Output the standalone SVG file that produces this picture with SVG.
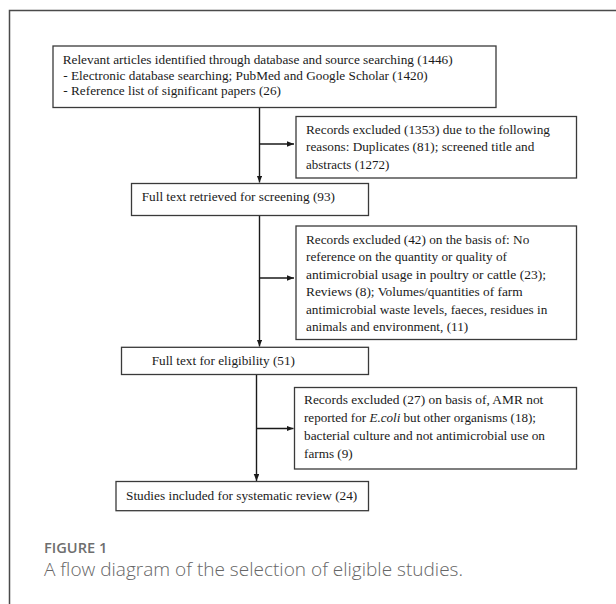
<svg xmlns="http://www.w3.org/2000/svg" width="616" height="604" viewBox="0 0 616 604">
  <style>
    .box { fill: #ffffff; stroke: #3a3a3a; stroke-width: 1.3; }
    .t { font-family: "Liberation Serif", "Times New Roman", serif; font-size: 13.5px; fill: #1a1a1a; }
    .conn { stroke: #1a1a1a; stroke-width: 1.4; fill: none; }
    .frame { fill: none; stroke: #4a4a4a; stroke-width: 1.5; }
    .figlabel { font-family: "Open Sans", "Liberation Sans", sans-serif; font-size: 15px; font-weight: 600; fill: #6e6e6e; }
    .caption { font-family: "Open Sans", "Liberation Sans", sans-serif; font-size: 18px; font-weight: 300; fill: #666666; }
  </style>
  <defs>
    <marker id="arrow" markerUnits="userSpaceOnUse" markerWidth="8" markerHeight="6" refX="7" refY="2.75" orient="auto">
      <path d="M0,0 L7,2.75 L0,5.5 z" fill="#1a1a1a"/>
    </marker>
  </defs>
  <rect x="0" y="0" width="616" height="604" fill="#ffffff"/>
  <rect class="frame" x="9.5" y="10.5" width="720" height="720"/>

  <g id="connectors">
    <line class="conn" x1="259.5" y1="107.5" x2="259.5" y2="182.5" marker-end="url(#arrow)"/>
    <line class="conn" x1="259.5" y1="144" x2="294" y2="144" marker-end="url(#arrow)"/>
    <line class="conn" x1="259.5" y1="215.5" x2="259.5" y2="346.5" marker-end="url(#arrow)"/>
    <line class="conn" x1="259.5" y1="278" x2="294" y2="278" marker-end="url(#arrow)"/>
    <line class="conn" x1="256.5" y1="374.5" x2="256.5" y2="481" marker-end="url(#arrow)"/>
    <line class="conn" x1="256.5" y1="428.5" x2="293.5" y2="428.5" marker-end="url(#arrow)"/>
  </g>

  <g id="identified">
    <rect class="box" x="53" y="46" width="443" height="61.5"/>
    <text class="t" x="62.7" y="64" textLength="390" lengthAdjust="spacingAndGlyphs">Relevant articles identified through database and source searching (1446)</text>
    <text class="t" x="63.3" y="79.5" textLength="364.4" lengthAdjust="spacingAndGlyphs">- Electronic database searching; PubMed and Google Scholar (1420)</text>
    <text class="t" x="63.3" y="95" textLength="217.7" lengthAdjust="spacingAndGlyphs">- Reference list of significant papers (26)</text>
  </g>

  <g id="excluded1">
    <rect class="box" x="296" y="116.5" width="280.5" height="61.5"/>
    <text class="t" x="306" y="134" textLength="244" lengthAdjust="spacingAndGlyphs">Records excluded (1353) due to the following</text>
    <text class="t" x="306" y="151" textLength="228.3" lengthAdjust="spacingAndGlyphs">reasons: Duplicates (81); screened title and</text>
    <text class="t" x="306" y="168.5" textLength="83.3" lengthAdjust="spacingAndGlyphs">abstracts (1272)</text>
  </g>

  <g id="retrieved">
    <rect class="box" x="131.5" y="183.5" width="237" height="32"/>
    <text class="t" x="141.7" y="201" textLength="193.3" lengthAdjust="spacingAndGlyphs">Full text retrieved for screening (93)</text>
  </g>

  <g id="excluded2">
    <rect class="box" x="296" y="226" width="280.5" height="113.5"/>
    <text class="t" x="306" y="243.5" textLength="223.3" lengthAdjust="spacingAndGlyphs">Records excluded (42) on the basis of: No</text>
    <text class="t" x="306" y="261" textLength="201" lengthAdjust="spacingAndGlyphs">reference on the quantity or quality of</text>
    <text class="t" x="306" y="278.5" textLength="240" lengthAdjust="spacingAndGlyphs">antimicrobial usage in poultry or cattle (23);</text>
    <text class="t" x="306" y="296" textLength="216.7" lengthAdjust="spacingAndGlyphs">Reviews (8); Volumes/quantities of farm</text>
    <text class="t" x="306" y="313.5" textLength="241.3" lengthAdjust="spacingAndGlyphs">antimicrobial waste levels, faeces, residues in</text>
    <text class="t" x="306" y="331" textLength="162.3" lengthAdjust="spacingAndGlyphs">animals and environment, (11)</text>
  </g>

  <g id="eligibility">
    <rect class="box" x="121.5" y="347.3" width="247" height="27.2"/>
    <text class="t" x="151.7" y="365" textLength="143.3" lengthAdjust="spacingAndGlyphs">Full text for eligibility (51)</text>
  </g>

  <g id="excluded3">
    <rect class="box" x="294.5" y="387.5" width="282" height="81.5"/>
    <text class="t" x="304" y="404" textLength="239.3" lengthAdjust="spacingAndGlyphs">Records excluded (27) on basis of, AMR not</text>
    <text class="t" x="304" y="422" textLength="232" lengthAdjust="spacingAndGlyphs">reported for <tspan font-style="italic">E.coli</tspan> but other organisms (18);</text>
    <text class="t" x="304" y="440" textLength="241" lengthAdjust="spacingAndGlyphs">bacterial culture and not antimicrobial use on</text>
    <text class="t" x="304" y="457.5" textLength="48.7" lengthAdjust="spacingAndGlyphs">farms (9)</text>
  </g>

  <g id="included">
    <rect class="box" x="116" y="481.5" width="252.5" height="29.2"/>
    <text class="t" x="126" y="500" textLength="231.3" lengthAdjust="spacingAndGlyphs">Studies included for systematic review (24)</text>
  </g>

  <g id="caption">
    <text class="figlabel" x="44" y="553" textLength="63.3" lengthAdjust="spacingAndGlyphs">FIGURE 1</text>
    <text class="caption" x="44" y="576" textLength="419" lengthAdjust="spacingAndGlyphs">A flow diagram of the selection of eligible studies.</text>
  </g>
</svg>
